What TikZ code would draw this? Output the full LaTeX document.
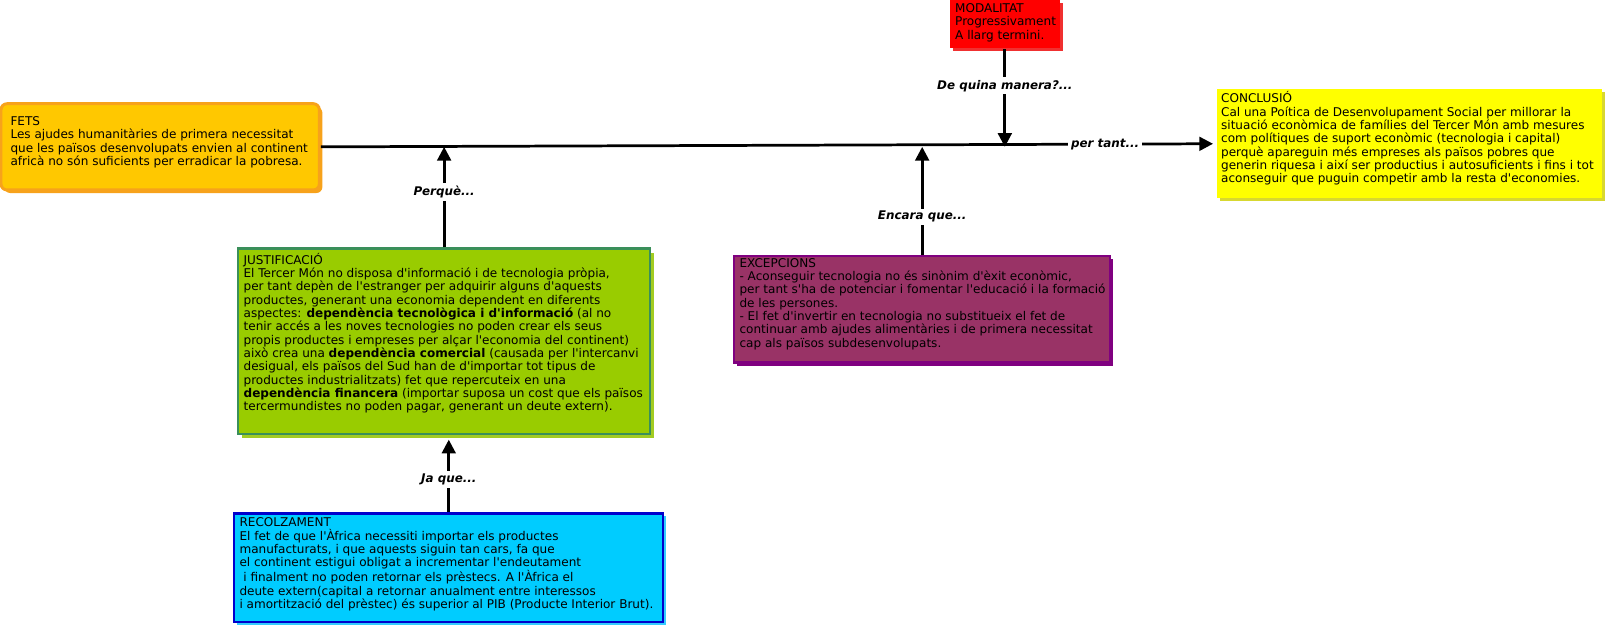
\documentclass[tikz,border=0pt]{standalone}
\usepackage{fontspec}
\setmainfont{DejaVu Sans}[Ligatures=TeXOff]
\usetikzlibrary{arrows.meta}
\definecolor{fetsfill}{HTML}{FFC800}
\definecolor{fetsline}{HTML}{F7A21B}
\definecolor{modfill}{HTML}{FF0000}
\definecolor{modshadow}{HTML}{F03030}
\definecolor{conclfill}{HTML}{FFFF00}
\definecolor{conclshadow}{HTML}{D8D830}
\definecolor{justfill}{HTML}{99CC00}
\definecolor{justline}{HTML}{3A8F5A}
\definecolor{justshadow}{HTML}{A2CC22}
\definecolor{recolfill}{HTML}{00CCFF}
\definecolor{recolline}{HTML}{0000CC}
\definecolor{recolshadow}{HTML}{33CCFF}
\definecolor{excfill}{HTML}{993366}
\definecolor{excline}{HTML}{800080}
\tikzset{
  boxbase/.style={rectangle, inner sep=0pt, line width=1.65pt},
  boxtext/.style={anchor=north west, inner sep=0pt, align=left, font=\fontsize{8.8}{9.75}\selectfont},
  conn/.style={line width=2.05pt, -{Triangle[width=10.3pt,length=10.3pt]}},
  lbl/.style={fill=white, inner sep=2pt, font=\fontsize{8.7}{9.75}\selectfont\bfseries\itshape}
}
\begin{document}
\begin{tikzpicture}[x=0.75pt,y=-0.75pt]
\useasboundingbox (0,0) rectangle (1610,629);
\begin{scope}[scale=1.0268, every node/.append style={transform shape}]
% shadows
\fill[fetsline, rounded corners=4.6pt] (4,104) rectangle (314,188);
\fill[modshadow] (928,3) rectangle (1035,50);
\fill[conclshadow] (1188,90) rectangle (1563,196);
\fill[justshadow] (236,246) rectangle (637,427);
\fill[recolshadow] (231,503) rectangle (649,609);
\fill[excline] (718,252) rectangle (1084,356);
% boxes
\node[boxbase, draw=fetsline, fill=fetsfill, rounded corners=4.5pt, line width=2.2pt,
  minimum width=232.5pt, minimum height=63pt] (fets) at (156,143) {};
\node[boxbase, fill=modfill, minimum width=80.25pt, minimum height=35.25pt] (mod) at (978.5,23.5) {};
\node[boxbase, fill=conclfill, minimum width=281.25pt, minimum height=79.5pt] (concl) at (1372.5,140) {};
\node[boxbase, draw=justline, fill=justfill, minimum width=300.75pt, minimum height=135.75pt] (just) at (432.5,332.5) {};
\node[boxbase, draw=recolline, fill=recolfill, minimum width=313.5pt, minimum height=79.5pt] (recol) at (437,553) {};
\node[boxbase, draw=excline, fill=excfill, minimum width=274.5pt, minimum height=78pt] (exc) at (898,301) {};
% texts
\node[boxtext] (fetst) at (10,111) {\vphantom{Ó}FETS\\Les ajudes humanitàries de primera necessitat\\que les països desenvolupats envien al continent\\africà no són suficients per erradicar la pobresa.};
\node[boxtext] (modt) at (930,1) {\vphantom{Ó}MODALITAT\\Progressivament\\A llarg termini.};
\node[boxtext] (conclt) at (1189,89) {CONCLUSIÓ\\Cal una Poítica de Desenvolupament Social per millorar la\\situació econòmica de famílies del Tercer Món amb mesures\\com polítiques de suport econòmic (tecnologia i capital)\\perquè apareguin més empreses als països pobres que\\generin riquesa i així ser productius i autosuficients i fins i tot\\aconseguir que puguin competir amb la resta d'economies.};
\node[boxtext] (justt) at (237,246) {JUSTIFICACIÓ\\El Tercer Món no disposa d'informació i de tecnologia pròpia,\\per tant depèn de l'estranger per adquirir alguns d'aquests\\productes, generant una economia dependent en diferents\\aspectes: \textbf{dependència tecnològica i d'informació} (al no\\tenir accés a les noves tecnologies no poden crear els seus\\propis productes i empreses per alçar l'economia del continent)\\això crea una \textbf{dependència comercial} (causada per l'intercanvi\\desigual, els països del Sud han de d'importar tot tipus de\\productes industrialitzats) fet que repercuteix en una\\\textbf{dependència financera} (importar suposa un cost que els països\\tercermundistes no poden pagar, generant un deute extern).};
\node[boxtext] (recolt) at (233,502) {\vphantom{Ó}RECOLZAMENT\\El fet de que l'Àfrica necessiti importar els productes\\manufacturats, i que aquests siguin tan cars, fa que\\el continent estigui obligat a incrementar l'endeutament\\\ i finalment no poden retornar els prèstecs. A l'Àfrica el\\deute extern(capital a retornar anualment entre interessos\\i amortització del prèstec) és superior al PIB (Producte Interior Brut).};
\node[boxtext] (exct) at (720,249) {\vphantom{Ó}EXCEPCIONS\\- Aconseguir tecnologia no és sinònim d'èxit econòmic,\\per tant s'ha de potenciar i fomentar l'educació i la formació\\de les persones.\\- El fet d'invertir en tecnologia no substitueix el fet de\\continuar amb ajudes alimentàries i de primera necessitat\\cap als països subdesenvolupats.};
% connectors
\coordinate (jb) at ([yshift=-3pt]just.south);
\draw[conn] (fets.east) -- node[lbl, pos=0.879] {per tant...} ([xshift=-2pt]concl.west);
\draw[conn] (just.north) -- node[lbl, pos=0.55] {Perquè...} (just.north |- fets.east);
\draw[conn] (recol.north) -- node[lbl, pos=0.45] {Ja que...} (recol.north |- jb);
\draw[conn] (exc.north) -- node[lbl, pos=0.35] {Encara que...} (exc.north |- fets.east);
\draw[conn] (mod.south) -- node[lbl, pos=0.375] {De quina manera?...} (mod.south |- fets.east);
\end{scope}
\end{tikzpicture}
\end{document}
